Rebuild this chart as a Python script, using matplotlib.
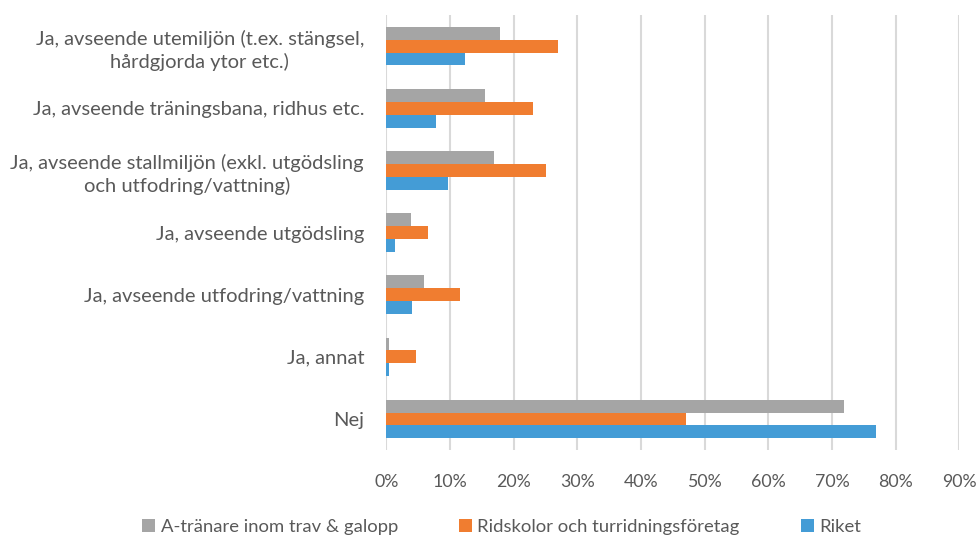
import matplotlib.pyplot as plt
import numpy as np
from matplotlib.ticker import PercentFormatter

categories = [
    "Ja, avseende utemiljön (t.ex. stängsel,\nhårdgjorda ytor etc.)",
    "Ja, avseende träningsbana, ridhus etc.",
    "Ja, avseende stallmiljön (exkl. utgödsling\noch utfodring/vattning)",
    "Ja, avseende utgödsling",
    "Ja, avseende utfodring/vattning",
    "Ja, annat",
    "Nej",
]
series_names = ["A-tränare inom trav & galopp", "Ridskolor och turridningsföretag", "Riket"]
a_tranare = [17.9, 15.5, 16.9, 3.9, 5.9, 0.4, 71.9]
ridskolor = [26.9, 23.1, 25.1, 6.5, 11.6, 4.7, 47.0]
riket = [12.4, 7.8, 9.7, 1.3, 4.0, 0.4, 76.9]
x_ticks = list(range(0, 100, 10))

colors = ["#A5A5A5", "#F07D30", "#449CD6"]
text_color = "#595959"

plt.rcParams['font.family'] = ['Lato', 'DejaVu Sans']

fig, ax = plt.subplots(figsize=(9.78, 5.37), dpi=100)
fig.subplots_adjust(left=0.395, right=0.981, top=0.972, bottom=0.162)

y = np.arange(len(categories))
h = 0.207
for k, vals in enumerate([a_tranare, ridskolor, riket]):
    ax.barh(y + (k - 1) * h, vals, height=h, color=colors[k], label=series_names[k], zorder=3)

ax.set_ylim(len(categories) - 0.5, -0.5)
ax.set_xlim(0, 90)
ax.set_xticks(x_ticks)
ax.xaxis.set_major_formatter(PercentFormatter(decimals=0))
ax.set_yticks(y)
ax.set_yticklabels(categories, multialignment='center', fontsize=14.5, linespacing=1.35)
ax.tick_params(axis='both', length=0, colors=text_color)
ax.tick_params(axis='x', pad=17, labelsize=12.8)
ax.tick_params(axis='y', pad=16)
ax.grid(axis='x', color='#D9D9D9', linewidth=1.5, zorder=0)
for s in ax.spines.values():
    s.set_visible(False)

fig.legend(loc='lower center', bbox_to_anchor=(0.513, -0.027), ncol=3, frameon=False,
           fontsize=13.3, labelcolor=text_color, handlelength=0.7, handleheight=0.7,
           handletextpad=0.3, columnspacing=3.3)

plt.savefig("out.png")
